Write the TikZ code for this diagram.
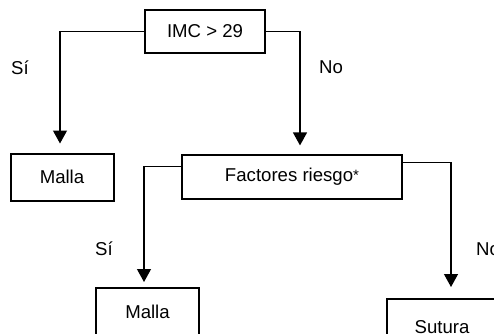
\documentclass[tikz,border=0pt]{standalone}
\usepackage{fontspec}
\setmainfont{Liberation Sans}
\usetikzlibrary{arrows.meta,calc}
\begin{document}
\begin{tikzpicture}[x=1pt,y=-1pt,
  every node/.style={font=\fontsize{18.6}{21}\selectfont, inner sep=0pt},
  thinbox/.style={draw, line width=1.2pt, fill=white},
  thickbox/.style={draw, line width=2pt, fill=white},
  link/.style={line width=1.2pt, -{Triangle[width=14pt,length=13pt]}},
  lbl/.style={anchor=center}]
  \useasboundingbox (0,0) rectangle (494,333);
  \clip (0,0) rectangle (494,333);

  % decision and outcome boxes
  \node[thinbox, minimum width=120pt, minimum height=43pt] (imc) at (205,31.5) {IMC > 29};
  \node[thickbox, minimum width=103pt, minimum height=47pt] (malla1) at (62,177) {Malla};
  \node[thinbox, minimum width=220pt, minimum height=44pt] (fac) at (292,177) {Factores riesgo\raisebox{1pt}{\fontsize{15}{16}\selectfont *}};
  \node[thickbox, minimum width=103pt, minimum height=48pt] (malla2) at (147.5,312) {Malla};
  \node[thickbox, minimum width=110pt, minimum height=56pt] (sutura) at (442,327) {Sutura};

  % branch labels
  \node[lbl] (si1) at (20,68) {Sí};
  \node[lbl] (no1) at (331,67) {No};
  \node[lbl] (si2) at (104,249) {Sí};
  \node[lbl] (no2) at (488,249) {No};

  % branches
  \draw[link, shorten >=9pt] (imc.west) -| (malla1.north -| 60,0);
  \draw[link, shorten >=9pt] (imc.east) -| (fac.north -| 300,0);
  \coordinate (facL) at ($(fac.north west)+(0,12)$);
  \coordinate (facR) at ($(fac.north east)+(0,8)$);
  \draw[link, shorten >=5pt] (facL) -| (malla2.north -| 144,0);
  \draw[link, shorten >=11pt] (facR) -| (sutura.north -| 451,0);
\end{tikzpicture}
\end{document}
